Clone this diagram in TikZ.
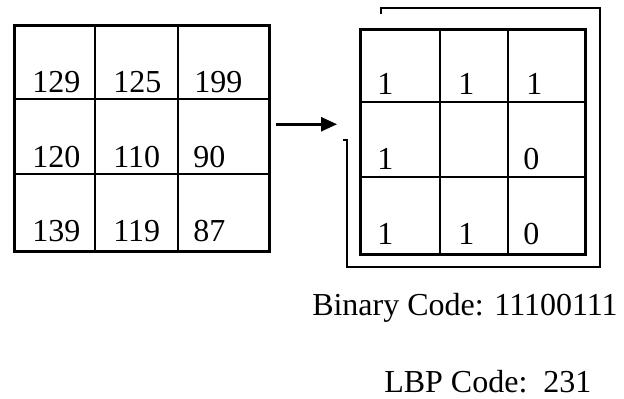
\documentclass[tikz,border=0pt]{standalone}
\usepackage{fontspec}
\setmainfont{Liberation Serif}
\usetikzlibrary{arrows.meta}

\begin{document}
\begin{tikzpicture}[x=0.5pt,y=-0.5pt,line width=1.25pt,
  num/.style={anchor=base west,inner sep=0pt,font=\fontsize{16}{19}\selectfont},
  frame/.style={draw,anchor=north west,inner sep=0pt}]
\useasboundingbox (0,0) rectangle (624,398);

% frames
\node (src) [frame,minimum width=127.5pt,minimum height=113pt] at (13,24) {};
\node (dst) [frame,minimum width=112.5pt,minimum height=112.5pt] at (359,28) {};

% grid lines
\draw (95,24) -- (95,250);
\draw (178,24) -- (178,250);
\draw (13,99) -- (268,99);
\draw (13,174) -- (268,174);
\draw (440,28) -- (440,253);
\draw (508,28) -- (508,253);
\draw (359,102) -- (584,102);
\draw (359,177) -- (584,177);

% pixel values
\node (a11) [num] at (31,92) {129};
\node (a12) [num] at (112,92) {125};
\node (a13) [num] at (193,92) {199};
\node (a21) [num] at (31,167) {120};
\node (a22) [num] at (112,167) {110};
\node (a23) [num] at (192,167) {90};
\node (a31) [num] at (31,241) {139};
\node (a32) [num] at (112,241) {119};
\node (a33) [num] at (192,241) {87};

% thresholded values
\node (b11) [num] at (376,94) {1};
\node (b12) [num] at (457,94) {1};
\node (b13) [num] at (525,94) {1};
\node (b21) [num] at (376,169) {1};
\node (b23) [num] at (522,169) {0};
\node (b31) [num] at (376,244) {1};
\node (b32) [num] at (457,244) {1};
\node (b33) [num] at (522,244) {0};

% codes
\node (bin) [num] at (311,315) {Binary Code: 11100111};
\node (lbp) [num] at (383,392) {LBP Code:~~231};

% arrows
\draw[-{Triangle[length=8pt,width=7pt]}] ([xshift=2.5pt,yshift=7pt]src.east) -- ([xshift=-11pt,yshift=8.75pt]dst.west);
\draw (381,14) -- (381,8) -- (600,8) -- (600,267) -- (347,267) -- (347,140) -- (343,140);
\end{tikzpicture}
\end{document}
